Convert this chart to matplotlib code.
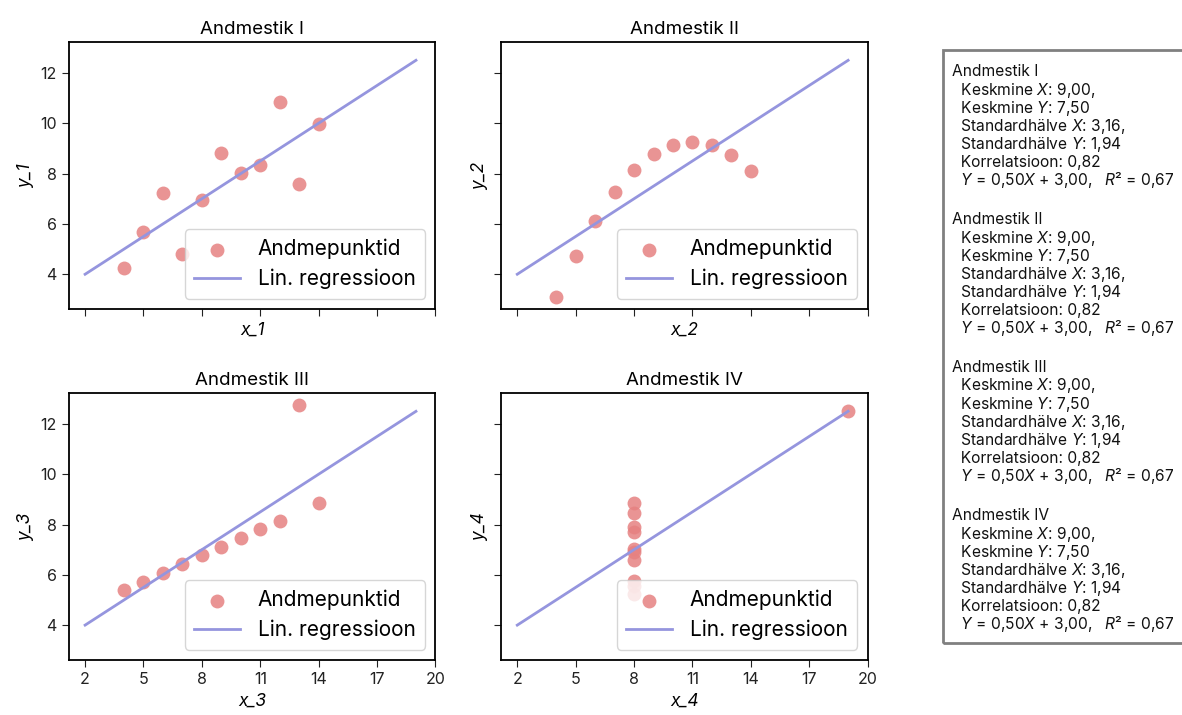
import matplotlib.pyplot as plt
import numpy as np

# Anscombe's quartet
x_123 = [10, 8, 13, 9, 11, 14, 6, 4, 12, 7, 5]
y_1 = [8.04, 6.95, 7.58, 8.81, 8.33, 9.96, 7.24, 4.26, 10.84, 4.82, 5.68]
y_2 = [9.14, 8.14, 8.74, 8.77, 9.26, 8.10, 6.13, 3.10, 9.13, 7.26, 4.74]
y_3 = [7.46, 6.77, 12.74, 7.11, 7.81, 8.84, 6.08, 5.39, 8.15, 6.42, 5.73]
x_4 = [8, 8, 8, 8, 8, 8, 8, 19, 8, 8, 8]
y_4 = [6.58, 5.76, 7.71, 8.84, 8.47, 7.04, 5.25, 12.50, 5.56, 7.91, 6.89]

titles = ['Andmestik I', 'Andmestik II', 'Andmestik III', 'Andmestik IV']
xlabels = ['x_1', 'x_2', 'x_3', 'x_4']
ylabels = ['y_1', 'y_2', 'y_3', 'y_4']
xticks = [2, 5, 8, 11, 14, 17, 20]
line_x = [2, 19]

datasets = [(x_123, y_1), (x_123, y_2), (x_123, y_3), (x_4, y_4)]

plt.rcParams['font.family'] = ['Inter', 'DejaVu Sans']
plt.rcParams['mathtext.fontset'] = 'custom'
plt.rcParams['mathtext.it'] = 'Inter:italic'
plt.rcParams['mathtext.rm'] = 'Inter'

dot_color = '#e68181'
line_color = '#9595de'

fig, axes = plt.subplots(2, 2, figsize=(11.82, 7.15), dpi=100, sharex=True, sharey=True)
fig.subplots_adjust(left=0.058, right=0.734, top=0.941, bottom=0.077, wspace=0.178, hspace=0.315)


def fmt(v):
    return f'{v:.2f}'.replace('.', ',')


blocks = []
for ax, (x, y), title, xl, yl in zip(axes.flat, datasets, titles, xlabels, ylabels):
    x = np.array(x, dtype=float)
    y = np.array(y, dtype=float)
    slope, icpt = np.polyfit(x, y, 1)
    r = np.corrcoef(x, y)[0, 1]
    ax.scatter(x, y, s=100, color=dot_color, alpha=0.85, linewidths=0, label='Andmepunktid', zorder=2)
    lx = np.array(line_x, dtype=float)
    ax.plot(lx, icpt + slope * lx, color=line_color, lw=2, label='Lin. regressioon', zorder=3)
    ax.set_title(title, fontsize=13.5)
    ax.set_xlabel(xl, fontsize=12.5, style='italic')
    ax.set_ylabel(yl, fontsize=12.5, style='italic')
    ax.tick_params(labelsize=11.5, length=5, color='#222222', labelcolor='#222222')
    leg = ax.legend(loc='lower right', fontsize=15, framealpha=0.8, handlelength=2.2,
                    borderpad=0.45, labelspacing=0.45, handletextpad=0.85)
    leg.set_zorder(5)
    for sp in ax.spines.values():
        sp.set_linewidth(1.3)

    blocks.append([
        title,
        f'  Keskmine $X$: {fmt(x.mean())},',
        f'  Keskmine $Y$: {fmt(y.mean())}',
        f'  Standardhälve $X$: {fmt(x.std())},',
        f'  Standardhälve $Y$: {fmt(y.std())}',
        f'  Korrelatsioon: {fmt(r)}',
        f'  $Y$ = {fmt(slope)}$X$ + {fmt(icpt)},   $R$² = {fmt(r ** 2)}',
    ])

axes[0, 0].set_xticks(xticks)
axes[1, 0].set_xticks(xticks)
axes[0, 0].set_yticks([4, 6, 8, 10, 12])

# statistics box at the right
W, H = 1182, 715
fig.patches.append(plt.Rectangle((943 / W, 1 - 643 / H), 0.25, (643 - 50) / H, transform=fig.transFigure,
                                 fill=False, edgecolor='#808080', lw=2))
for b, block in enumerate(blocks):
    for i, line in enumerate(block):
        ypx = 72 + b * 148 + i * 18
        fig.text(952 / W, 1 - ypx / H, line, fontsize=11.2, va='center', ha='left', color='#111111')

fig.savefig('out.png', dpi=100)
